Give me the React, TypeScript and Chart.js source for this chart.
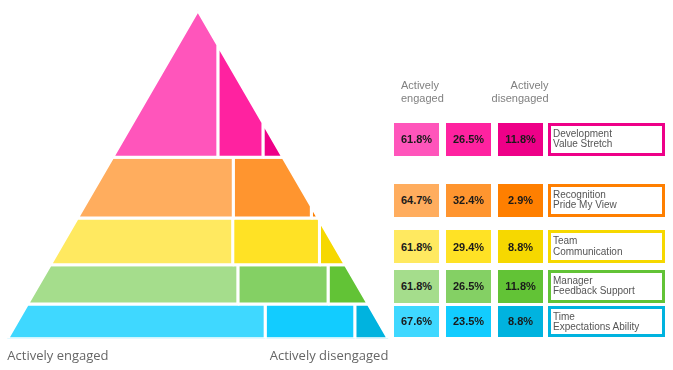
import React, { useEffect, useRef, useState } from "react";
import { Chart, registerables } from "chart.js";

Chart.register(...registerables);

// ---------- data ----------
const layerTitles: string[][] = [
  ["Development", "Value Stretch"],
  ["Recognition", "Pride My View"],
  ["Team", "Communication"],
  ["Manager", "Feedback Support"],
  ["Time", "Expectations Ability"],
];
const engaged = [61.8, 64.7, 61.8, 61.8, 67.6];
const middle = [26.5, 32.4, 29.4, 26.5, 23.5];
const disengaged = [11.8, 2.9, 8.8, 11.8, 8.8];
// each layer holds an equal share of the pyramid's area
const layerShares = [20, 20, 20, 20, 20];
const axisLabels = ["Actively engaged", "Actively disengaged"];
const headerEngaged = ["Actively", "engaged"];
const headerDisengaged = ["Actively", "disengaged"];

// ---------- styles ----------
const palette: string[][] = [
  ["#FF55BB", "#FF22A0", "#EE0088"],
  ["#FFAD5E", "#FF952F", "#FF7F00"],
  ["#FFE960", "#FFE225", "#F6D800"],
  ["#A5DD8C", "#84D064", "#62C336"],
  ["#3FD8FF", "#12CCFF", "#00B3DF"],
];
const GAP = 3;
const FONT = '"Liberation Sans", Arial, sans-serif';

type P = { x: number; y: number };

function clipVertical(poly: P[], c: number, keepRight: boolean): P[] {
  const out: P[] = [];
  for (let i = 0; i < poly.length; i++) {
    const a = poly[i];
    const b = poly[(i + 1) % poly.length];
    const ina = keepRight ? a.x >= c - 1e-9 : a.x <= c + 1e-9;
    const inb = keepRight ? b.x >= c - 1e-9 : b.x <= c + 1e-9;
    if (ina) out.push(a);
    if (ina !== inb) {
      const t = (c - a.x) / (b.x - a.x);
      out.push({ x: c, y: a.y + t * (b.y - a.y) });
    }
  }
  return out;
}

function buildGeometry() {
  const total = layerShares.reduce((s, v) => s + v, 0);
  let cum = 0;
  return layerShares.map((s) => {
    const fTop = Math.sqrt(cum / total);
    cum += s;
    const fBot = Math.sqrt(cum / total);
    return {
      yTop: 100 * (1 - fTop),
      yBot: 100 * (1 - fBot),
      hTop: 50 * fTop,
      hBot: 50 * fBot,
    };
  });
}

function buildDatasets(geo: ReturnType<typeof buildGeometry>) {
  const datasets: any[] = [];
  geo.forEach((g, i) => {
    const parts = [engaged[i], middle[i], disengaged[i]];
    const sum = parts.reduce((s, v) => s + v, 0);
    const base: P[] = [
      { x: -g.hBot, y: g.yBot },
      { x: g.hBot, y: g.yBot },
      { x: g.hTop, y: g.yTop },
      { x: -g.hTop, y: g.yTop },
    ];
    let acc = 0;
    parts.forEach((v, j) => {
      const xa = -g.hBot + (2 * g.hBot * acc) / sum;
      acc += v;
      const xb = -g.hBot + (2 * g.hBot * acc) / sum;
      let poly = clipVertical(base, xa, true);
      poly = clipVertical(poly, xb, false);
      if (poly.length) poly.push({ ...poly[0] });
      datasets.push({
        data: poly,
        fill: "shape",
        backgroundColor: palette[i][j],
        borderColor: "#ffffff",
        borderWidth: GAP,
        borderJoinStyle: "miter",
        pointRadius: 0,
        pointHoverRadius: 0,
        tension: 0,
      });
    });
  });
  return datasets;
}

type Row = { top: number; height: number };

export default function App() {
  const canvasRef = useRef<HTMLCanvasElement | null>(null);
  const [rows, setRows] = useState<Row[]>([]);

  useEffect(() => {
    const canvas = canvasRef.current;
    if (!canvas) return;
    const geo = buildGeometry();
    const chart = new Chart(canvas, {
      type: "line",
      data: { datasets: buildDatasets(geo) },
      options: {
        animation: false,
        responsive: false,
        devicePixelRatio: 1,
        events: [],
        layout: { padding: { left: 7.35, right: 284.65, top: 10.3, bottom: -3 } },
        plugins: { legend: { display: false }, tooltip: { enabled: false } },
        scales: {
          x: {
            type: "linear",
            min: -50,
            max: 50,
            grid: { display: false, drawTicks: false },
            border: { display: false },
            afterBuildTicks: (axis: any) => {
              axis.ticks = [{ value: -50 }, { value: 50 }];
            },
            ticks: {
              align: "inner",
              autoSkip: false,
              maxRotation: 0,
              padding: 0,
              color: "#666666",
              font: { family: '"Open Sans", sans-serif', size: 13, lineHeight: "34.2px" },
              callback: (_v: any, i: number) => axisLabels[i],
            },
          },
          y: { type: "linear", min: 0, max: 100, display: false },
        },
      } as any,
    });
    const ys = chart.scales.y;
    setRows(
      geo.map((g) => {
        const bottom = ys.getPixelForValue(g.yBot) - GAP / 2;
        const top = ys.getPixelForValue(g.yTop) + GAP / 2;
        const h = Math.min(33, bottom - top);
        return { top: bottom - h, height: h };
      })
    );
    return () => chart.destroy();
  }, []);

  const cols = [394, 446, 498];
  const values = [engaged, middle, disengaged];

  return (
    <div style={{ position: "absolute", left: 0, top: 0, width: 673, height: 370, background: "#fff", overflow: "hidden" }}>
      <canvas ref={canvasRef} width={673} height={370} style={{ display: "block", width: 673, height: 370 }} />
      <div
        style={{
          position: "absolute",
          left: 401,
          top: 79,
          font: `11px ${FONT}`,
          lineHeight: "13px",
          color: "#808080",
          whiteSpace: "nowrap",
        }}
      >
        {headerEngaged.map((t, i) => (
          <div key={i}>{t}</div>
        ))}
      </div>
      <div
        style={{
          position: "absolute",
          left: 478,
          width: 70.5,
          top: 79,
          font: `11px ${FONT}`,
          lineHeight: "13px",
          color: "#808080",
          textAlign: "right",
          whiteSpace: "nowrap",
        }}
      >
        {headerDisengaged.map((t, i) => (
          <div key={i}>{t}</div>
        ))}
      </div>
      {rows.map((r, i) => (
        <React.Fragment key={i}>
          {cols.map((left, j) => (
            <div
              key={j}
              style={{
                position: "absolute",
                left,
                top: r.top,
                width: 45,
                height: r.height,
                background: palette[i][j],
                display: "flex",
                alignItems: "center",
                justifyContent: "center",
                font: `bold 11px ${FONT}`,
                color: "#1a1a1a",
              }}
            >
              {values[j][i].toFixed(1)}%
            </div>
          ))}
          <div
            style={{
              position: "absolute",
              left: 548,
              top: r.top,
              width: 117,
              height: r.height,
              boxSizing: "border-box",
              border: `3px solid ${palette[i][2]}`,
              background: "#fff",
              padding: "3px 2px",
              font: `10px ${FONT}`,
              lineHeight: "10.5px",
              color: "#555",
              whiteSpace: "nowrap",
            }}
          >
            {layerTitles[i].map((t, k) => (
              <div key={k}>{t}</div>
            ))}
          </div>
        </React.Fragment>
      ))}
    </div>
  );
}
